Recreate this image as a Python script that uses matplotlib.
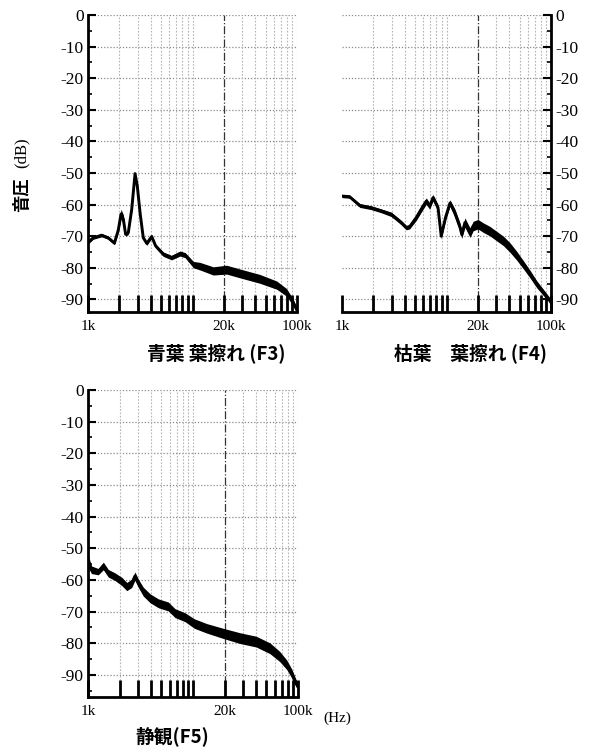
import numpy as np
import matplotlib
matplotlib.use("Agg")
import matplotlib.pyplot as plt
from matplotlib.ticker import NullLocator

plt.rcParams['font.family'] = ['Liberation Serif', 'Noto Sans CJK JP']
JP = ['Noto Sans CJK JP', 'DejaVu Sans']

# --- data (frequency in Hz, level in dB) ---
f3_freq = [1000, 1120, 1350, 1560, 1790, 1950, 2070, 2180, 2290, 2430, 2620, 2820,
           2960, 3150, 3380, 3650, 4070, 4440, 5250, 6300, 7600, 8500, 10200, 11800,
           15800, 21200, 28500, 44000, 64000, 79500, 92000, 100000]
f3_level = [-72, -70.5, -69.7, -70.5, -72.2, -68, -63, -64.7, -69.4, -68.9, -61.5, -50.2,
            -54, -62.6, -70.5, -72.3, -70.1, -73.1, -75.7, -76.8, -75.5, -76, -79, -79.5,
            -81, -80.6, -81.8, -83.5, -85.5, -87.8, -91, -93.5]
f3_spread = [0.5, 0.5, 0.5, 0.5, 0.5, 0.8, 1.5, 1.5, 0.6, 0.6, 0.6, 0.5,
             0.6, 0.6, 0.6, 0.6, 0.6, 0.6, 0.7, 0.7, 0.8, 0.8, 1.0, 1.2,
             1.3, 1.4, 1.4, 1.4, 1.3, 1.2, 1.0, 0.8]

f4_freq = [1000, 1180, 1270, 1480, 1900, 2380, 2960, 3690, 4120, 4440, 5140, 5960,
           6410, 6900, 7430, 8300, 8900, 9800, 10800, 12000, 13500, 14000, 15000, 16800,
           18000, 20000, 22500, 26000, 30000, 35000, 40500, 47000, 54000, 63000, 73000,
           84500, 98000, 100000]
f4_level = [-57.3, -57.5, -58.4, -60.3, -61, -62, -63.1, -65.7, -67.3, -67, -64.1, -60.5,
            -58.9, -60.5, -57.8, -61, -70, -64, -59.5, -62.6, -67.3, -69.5, -65.7, -68.9,
            -66.8, -66.2, -67.3, -68.4, -69.9, -71.5, -73.6, -76.2, -78.9, -82, -85.2,
            -87.8, -90.4, -91]
f4_spread = [0.5, 0.5, 0.5, 0.6, 0.6, 0.6, 0.7, 0.7, 0.7, 0.7, 0.9, 1.0,
             1.0, 1.0, 1.0, 1.0, 0.8, 1.0, 1.0, 1.3, 1.4, 1.2, 1.5, 1.5,
             1.5, 1.5, 1.5, 1.5, 1.5, 1.5, 1.5, 1.4, 1.3, 1.2, 1.1,
             1.0, 0.8, 0.8]

f5_freq = [1000, 1080, 1250, 1400, 1560, 1810, 2100, 2340, 2610, 2800, 3010, 3360,
           3900, 4680, 5820, 6740, 8400, 10300, 13500, 19400, 28000, 40000, 54000,
           67000, 78000, 87000, 95500, 100000]
f5_level = [-54, -56.8, -57.4, -55.6, -57.9, -59, -60.5, -62.1, -61.1, -58.8, -61, -63.7,
            -65.8, -67.4, -68.4, -70.5, -71.8, -73.8, -75.3, -76.9, -78.4, -79.5, -81.6,
            -84.2, -86.8, -89.5, -92.6, -93.5]
f5_spread = [2.0, 1.2, 1.0, 1.2, 1.2, 1.2, 1.3, 1.3, 1.3, 1.3, 1.3, 1.4,
             1.4, 1.4, 1.4, 1.4, 1.4, 1.5, 1.5, 1.6, 1.7, 1.7, 1.7,
             1.6, 1.5, 1.4, 1.2, 1.0]

tick_freqs = [1000, 2000, 3000, 4000, 5000, 6000, 7000, 8000, 9000, 10000,
              20000, 30000, 40000, 50000, 60000, 70000, 80000, 90000, 100000]
tick_names = {1000: '1k', 20000: '20k', 100000: '100k'}
db_ticks = [0, -10, -20, -30, -40, -50, -60, -70, -80, -90]

W, H = 593, 751
fig = plt.figure(figsize=(W / 100, H / 100), dpi=100)


def make_axes(left, top, right, bottom):
    return fig.add_axes([left / W, 1 - bottom / H, (right - left) / W, (bottom - top) / H])


def setup(ax, ylow, right_side=False):
    ax.set_xscale('log')
    ax.set_xlim(1000, 100000)
    ax.set_ylim(ylow, 0)
    ax.set_xticks(tick_freqs, labels=[tick_names.get(t, '') for t in tick_freqs])
    ax.xaxis.set_minor_locator(NullLocator())
    ax.tick_params(axis='x', direction='in', length=12, width=2, pad=6, labelsize=11)
    ax.set_yticks(db_ticks, labels=[str(d) for d in db_ticks])
    ax.set_yticks(np.arange(-5, ylow, -10), minor=True)
    ax.tick_params(axis='y', which='major', direction='in', length=6, width=1.5,
                   pad=3, labelsize=12.5)
    ax.tick_params(axis='y', which='minor', direction='in', length=3, width=1.2)
    ax.spines['top'].set_visible(False)
    if right_side:
        ax.spines['left'].set_visible(False)
        ax.yaxis.tick_right()
        ax.yaxis.set_label_position('right')
    else:
        ax.spines['right'].set_visible(False)
    for s in ('left', 'right', 'bottom'):
        ax.spines[s].set_linewidth(2)

    # grid
    for d in db_ticks:
        ax.axhline(d, color='#8a8a8a', lw=0.9, ls=(0, (1, 1.5)), zorder=1)
    for t in tick_freqs[1:]:
        if t == 20000:
            ax.axvline(t, color='#333333', lw=0.9, ls='-.', zorder=1)
        else:
            ax.axvline(t, color='#b5b5b5', lw=0.8, ls=(0, (1.5, 1.5)), zorder=1)


def draw_curve(ax, freq, level, spread):
    freq = np.array(freq, dtype=float)
    level = np.array(level, dtype=float)
    spread = np.array(spread, dtype=float)
    ax.fill_between(freq, level - spread, level + spread, color='black', lw=0, zorder=3)
    ax.plot(freq, level, color='black', lw=2.1, zorder=4, solid_joinstyle='round')


ax1 = make_axes(88, 15, 297, 312)
setup(ax1, -94)
draw_curve(ax1, f3_freq, f3_level, f3_spread)

ax2 = make_axes(342, 15, 551, 312)
setup(ax2, -94, right_side=True)
draw_curve(ax2, f4_freq, f4_level, f4_spread)

ax3 = make_axes(88, 390, 298, 697)
setup(ax3, -97)
draw_curve(ax3, f5_freq, f5_level, f5_spread)

# texts
fig.text(216 / W, 1 - 353 / H, '青葉 葉擦れ (F3)', family=JP, fontweight='bold',
         fontsize=13.5, ha='center', va='center')
fig.text(470 / W, 1 - 353 / H, '枯葉　葉擦れ (F4)', family=JP, fontweight='bold',
         fontsize=13.5, ha='center', va='center')
fig.text(172 / W, 1 - 736 / H, '静観(F5)', family=JP, fontweight='bold',
         fontsize=13.5, ha='center', va='center')
fig.text(337 / W, 1 - 718 / H, '(Hz)', fontsize=11, ha='center', va='center')
fig.text(22 / W, 1 - 195 / H, '音圧', family=JP, fontweight='bold', fontsize=12.5,
         rotation=90, ha='center', va='center')
fig.text(22 / W, 1 - 153 / H, '(dB)', fontsize=12, rotation=90, ha='center', va='center')

fig.savefig('out.png', dpi=100)
